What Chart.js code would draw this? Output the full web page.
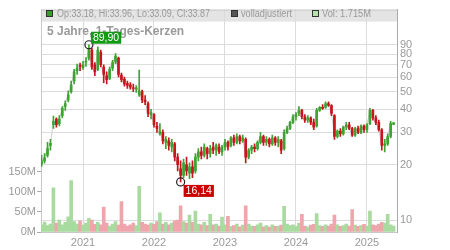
<!DOCTYPE html>
<html>
<head>
<meta charset="utf-8">
<script src="https://cdn.jsdelivr.net/npm/chart.js@4/dist/chart.umd.min.js"></script>
<style>
  html, body { margin: 0; padding: 0; background: #fff; }
</style>
</head>
<body>
<canvas id="chart" width="450" height="250"></canvas>
<script>
const months = [
  "2020-06", "2020-07", "2020-08", "2020-09", "2020-10", "2020-11", "2020-12",
  "2021-01", "2021-02", "2021-03", "2021-04", "2021-05", "2021-06", "2021-07", "2021-08", "2021-09", "2021-10", "2021-11", "2021-12",
  "2022-01", "2022-02", "2022-03", "2022-04", "2022-05", "2022-06", "2022-07", "2022-08", "2022-09", "2022-10", "2022-11", "2022-12",
  "2023-01", "2023-02", "2023-03", "2023-04", "2023-05", "2023-06", "2023-07", "2023-08", "2023-09", "2023-10", "2023-11", "2023-12",
  "2024-01", "2024-02", "2024-03", "2024-04", "2024-05", "2024-06", "2024-07", "2024-08", "2024-09", "2024-10", "2024-11", "2024-12",
  "2025-01", "2025-02", "2025-03", "2025-04", "2025-05",
];
const halves = ["01", "16"];

const opens = [
  20.2, 21.0, 22.5, 25.5, 33.0, 35.5, 33.5, 37.0, 41.5, 45.0,
  50.0, 57.0, 65.0, 69.5, 67.5, 72.5, 76.0, 84.0, 70.0, 66.0,
  82.0, 68.0, 61.0, 59.0, 67.0, 72.5, 76.0, 61.5, 58.5, 55.5,
  54.5, 52.5, 51.5, 48.0, 50.0, 45.0, 43.0, 37.5, 37.5, 32.5,
  29.5, 30.0, 26.5, 27.0, 25.0, 26.0, 22.0, 19.0, 17.5, 20.0,
  18.0, 19.5, 18.5, 22.0, 23.5, 22.5, 24.5, 23.0, 25.0, 24.0,
  25.0, 23.5, 25.0, 26.5, 25.5, 28.0, 26.5, 28.5, 27.0, 27.5,
  22.0, 24.0, 25.0, 24.5, 26.5, 28.5, 26.5, 27.5, 26.0, 28.0,
  26.5, 27.0, 24.5, 30.0, 31.5, 34.0, 36.5, 38.0, 39.5, 36.5,
  35.0, 36.0, 34.0, 32.5, 39.5, 41.0, 41.0, 43.0, 42.0, 37.0,
  28.5, 30.5, 29.5, 32.0, 33.0, 31.5, 29.0, 31.5, 30.0, 32.5,
  31.0, 33.5, 39.5, 36.0, 34.0, 31.0, 25.5, 26.0, 28.5, 33.18,
];
const highs = [
  22.5, 23.0, 26.5, 27.5, 36.8, 36.0, 37.0, 41.5, 44.5, 50.5,
  57.0, 66.0, 70.5, 71.5, 73.0, 76.5, 89.9, 86.0, 72.0, 87.5,
  84.0, 70.0, 64.0, 68.0, 74.0, 80.5, 77.0, 63.0, 60.0, 57.0,
  56.0, 55.0, 54.0, 65.5, 51.0, 47.5, 44.0, 40.0, 38.0, 34.0,
  33.5, 31.0, 28.5, 28.0, 27.5, 26.5, 23.0, 21.0, 21.5, 22.0,
  20.5, 21.0, 23.0, 24.5, 25.0, 26.0, 25.0, 25.5, 26.5, 26.0,
  26.0, 25.5, 27.5, 27.0, 28.5, 29.0, 29.5, 29.0, 29.0, 28.0,
  24.5, 25.5, 26.0, 27.0, 30.0, 29.0, 28.5, 28.0, 29.0, 28.5,
  28.5, 27.5, 31.0, 32.5, 34.5, 37.5, 38.5, 41.5, 40.0, 37.5,
  37.0, 36.5, 35.5, 40.5, 41.5, 42.5, 44.0, 44.0, 42.5, 37.5,
  31.0, 31.5, 32.5, 34.0, 34.0, 32.0, 32.0, 32.5, 33.0, 33.0,
  33.5, 40.5, 40.0, 37.0, 35.0, 31.5, 27.5, 29.5, 34.5, 33.96,
];
const lows = [
  19.6, 20.4, 22.0, 24.0, 31.5, 32.0, 32.5, 36.0, 39.5, 44.0,
  49.0, 55.0, 62.0, 65.0, 66.0, 68.5, 74.0, 66.0, 61.0, 65.0,
  68.0, 56.0, 55.0, 58.0, 65.0, 71.0, 60.0, 56.5, 53.5, 52.0,
  51.5, 50.0, 49.5, 47.0, 43.5, 42.5, 36.5, 35.5, 32.0, 30.0,
  29.0, 26.0, 24.5, 24.0, 23.5, 21.0, 18.5, 16.14, 17.0, 17.5,
  16.8, 17.0, 18.0, 21.0, 21.5, 22.0, 21.5, 22.0, 23.0, 22.5,
  23.0, 22.5, 24.0, 24.0, 25.0, 25.5, 26.0, 26.0, 26.5, 20.5,
  21.5, 23.0, 23.5, 24.0, 26.0, 25.5, 25.5, 25.0, 25.5, 25.5,
  25.0, 23.0, 24.0, 29.5, 31.0, 33.5, 35.0, 37.0, 35.5, 34.0,
  34.0, 33.0, 31.0, 32.0, 39.0, 40.0, 40.5, 41.5, 37.0, 27.5,
  28.0, 28.5, 29.0, 31.0, 31.0, 28.5, 28.5, 29.5, 29.5, 30.0,
  30.0, 33.0, 35.0, 33.0, 30.5, 24.0, 23.5, 25.5, 28.0, 33.09,
];
const closes = [
  21.0, 21.8, 24.5, 26.2, 34.5, 33.0, 35.5, 40.5, 43.0, 48.0,
  54.5, 64.0, 67.0, 68.5, 70.0, 73.0, 86.0, 68.0, 64.0, 84.0,
  70.0, 62.0, 58.0, 66.0, 72.0, 78.0, 62.0, 58.0, 55.0, 54.0,
  53.0, 52.0, 52.5, 50.5, 45.0, 44.0, 38.0, 38.5, 33.0, 31.5,
  30.5, 27.0, 27.5, 25.5, 26.5, 22.0, 20.0, 17.5, 20.5, 18.5,
  19.5, 18.0, 22.0, 23.5, 22.5, 25.0, 23.0, 24.5, 24.0, 25.5,
  23.5, 25.0, 26.5, 25.0, 28.0, 26.5, 28.5, 27.0, 28.0, 22.0,
  24.0, 25.0, 24.5, 26.5, 28.5, 26.5, 27.5, 26.0, 28.0, 26.5,
  27.5, 24.0, 30.0, 31.5, 34.0, 36.5, 37.5, 39.5, 36.5, 35.0,
  36.0, 34.0, 32.0, 39.5, 41.0, 40.5, 43.0, 42.0, 38.0, 28.5,
  30.5, 29.5, 32.0, 33.0, 31.5, 29.0, 31.5, 30.0, 32.5, 31.0,
  33.0, 39.5, 36.0, 34.0, 31.0, 25.5, 26.0, 28.5, 33.5, 33.87,
];
// volume in millions
const volumes = [
  18, 25, 16, 20, 110, 22, 30, 18, 24, 38,
  128, 26, 20, 28, 17, 22, 34, 30, 19, 24,
  18, 62, 22, 15, 20, 26, 17, 76, 20, 15,
  18, 22, 16, 114, 24, 20, 17, 22, 19, 26,
  48, 20, 24, 18, 22, 28, 30, 65, 26, 22,
  42, 24, 52, 20, 18, 24, 16, 44, 18, 20,
  15, 37, 18, 39, 14, 16, 20, 13, 17, 65,
  20, 15, 14, 18, 22, 13, 16, 12, 18, 14,
  15, 17, 64, 20, 16, 18, 14, 22, 44, 15,
  13, 17, 19, 46, 16, 14, 18, 15, 20, 42,
  18, 14, 16, 20, 15, 56, 17, 14, 16, 19,
  15, 52, 18, 16, 20, 24, 22, 44, 18, 15,
];
const priceTicks = [10, 20, 30, 40, 50, 60, 70, 80, 90];
const volumeTicks = [0, 50, 100, 150];
const headerTexts = ["Op:33.18, Hi:33.96, Lo:33.09, Cl:33.87", "volladjustiert", "Vol: 1.715M"];
const titleText = "5 Jahre, 1-Tages-Kerzen";

const UP = "#3ea333";
const DOWN = "#c8151d";
const VOL_UP = "#a9dba0";
const VOL_DOWN = "#efa5ac";
const TEXT = "#9a9a9a";
const GRID = "#dcdcdc";

const dates = months.flatMap((m) => halves.map((d) => `${m}-${d}`));
const yearIdx = dates.map((d, i) => (d.endsWith("-01-01") ? i : -1)).filter((i) => i >= 0);
const isUp = closes.map((c, i) => c >= opens[i]);

const overlay = {
  id: "overlay",
  beforeDraw(chart) {
    const { ctx, chartArea: a } = chart;
    ctx.save();
    ctx.fillStyle = "#e4e4e4";
    ctx.fillRect(a.left, a.top, a.right - a.left, 12);
    ctx.restore();
  },
  afterDatasetsDraw(chart) {
    const { ctx, chartArea: a } = chart;
    const x = chart.scales.x;
    const y = chart.scales.price;
    ctx.save();
    ctx.strokeStyle = "#c8c8c8";
    ctx.lineWidth = 1;
    ctx.beginPath();
    ctx.moveTo(a.left, a.top + 0.5);
    ctx.lineTo(a.right, a.top + 0.5);
    ctx.stroke();

    // header legend
    const swatches = [
      { x: 46, fill: "#3a9a2e", tx: 57, w: 153 },
      { x: 231, fill: "#555555", tx: 241, w: 51 },
      { x: 312, fill: "#b6e2ad", tx: 322, w: 49 },
    ];
    ctx.font = "10px Arial, 'Liberation Sans', sans-serif";
    ctx.textBaseline = "middle";
    swatches.forEach((s, i) => {
      ctx.fillStyle = s.fill;
      ctx.fillRect(s.x + 0.5, 10.5, 6, 6);
      ctx.strokeStyle = "#333";
      ctx.strokeRect(s.x + 0.5, 10.5, 6, 6);
      ctx.fillStyle = TEXT;
      ctx.fillText(headerTexts[i], s.tx, 14, s.w);
    });

    ctx.font = "bold 12px Arial, 'Liberation Sans', sans-serif";
    ctx.textBaseline = "alphabetic";
    ctx.fillStyle = TEXT;
    ctx.fillText(titleText, 47, 35);

    // extreme markers
    const hi = highs.indexOf(Math.max(...highs));
    const lo = lows.indexOf(Math.min(...lows));
    const marks = [
      { i: hi, v: highs[hi], color: "#129a12", dx: 2, dy: -13 },
      { i: lo, v: lows[lo], color: "#cc0000", dx: 3, dy: 3 },
    ];
    ctx.font = "10.5px Arial, 'Liberation Sans', sans-serif";
    ctx.textBaseline = "middle";
    for (const m of marks) {
      const cx = x.getPixelForValue(m.i);
      const cy = y.getPixelForValue(m.v);
      ctx.strokeStyle = "#222";
      ctx.lineWidth = 1.2;
      ctx.beginPath();
      ctx.arc(cx, cy, 4, 0, Math.PI * 2);
      ctx.stroke();
      const label = m.v.toFixed(2).replace(".", ",");
      const w = ctx.measureText(label).width + 4;
      ctx.fillStyle = m.color;
      ctx.fillRect(cx + m.dx, cy + m.dy, w, 12);
      ctx.fillStyle = "#fff";
      ctx.fillText(label, cx + m.dx + 2, cy + m.dy + 6.5);
    }
    ctx.restore();
  },
};

Chart.defaults.font.family = "Arial, 'Liberation Sans', sans-serif";

new Chart(document.querySelector("#chart"), {
  type: "bar",
  data: {
    datasets: [
      {
        type: "line",
        label: "volladjustiert",
        data: closes.map((c, i) => ({ x: i, y: c })),
        yAxisID: "price",
        borderColor: "#cfcfcf",
        borderWidth: 1,
        pointRadius: 0,
        order: 3,
      },
      {
        label: "wick",
        data: lows.map((l, i) => ({ x: i, y: [l, highs[i]] })),
        yAxisID: "price",
        backgroundColor: isUp.map((u) => (u ? UP : DOWN)),
        barThickness: 1,
        grouped: false,
        order: 2,
      },
      {
        label: "body",
        data: opens.map((o, i) => ({ x: i, y: [o, closes[i]] })),
        yAxisID: "price",
        backgroundColor: isUp.map((u) => (u ? UP : DOWN)),
        barThickness: 2,
        grouped: false,
        order: 1,
      },
      {
        label: "Vol",
        data: volumes.map((v, i) => ({ x: i, y: v })),
        yAxisID: "vol",
        backgroundColor: isUp.map((u) => (u ? VOL_UP : VOL_DOWN)),
        barThickness: 3,
        grouped: false,
        order: 4,
      },
    ],
  },
  options: {
    responsive: false,
    animation: false,
    layout: { padding: { top: 7 } },
    plugins: { legend: { display: false }, tooltip: { enabled: false } },
    scales: {
      x: {
        type: "linear",
        offset: false,
        min: -0.2,
        max: 120.15,
        afterBuildTicks: (axis) => {
          axis.ticks = yearIdx.map((v) => ({ value: v }));
        },
        afterFit: (axis) => {
          axis.height = 18;
        },
        ticks: {
          autoSkip: false,
          maxRotation: 0,
          padding: 4,
          color: TEXT,
          font: { size: 11 },
          callback: (v) => dates[v].slice(0, 4),
        },
        grid: { color: GRID, drawTicks: false, offset: false },
        border: { color: "#c8c8c8" },
      },
      price: {
        type: "logarithmic",
        position: "right",
        min: 8.62,
        max: 139.6,
        afterBuildTicks: (axis) => {
          axis.ticks = priceTicks.map((v) => ({ value: v }));
        },
        afterFit: (axis) => {
          axis.width = 53;
        },
        ticks: { color: TEXT, font: { size: 11 }, padding: 3, callback: (v) => String(v) },
        grid: { color: GRID, drawTicks: false },
        border: { color: "#aaaaaa" },
      },
      vol: {
        type: "linear",
        position: "left",
        min: 0,
        max: 554,
        afterBuildTicks: (axis) => {
          axis.ticks = volumeTicks.map((v) => ({ value: v }));
        },
        afterFit: (axis) => {
          axis.width = 41;
        },
        ticks: { color: TEXT, font: { size: 11 }, padding: 1, callback: (v) => `${v}M` },
        grid: { drawOnChartArea: false, tickLength: 4, tickColor: "#aaaaaa" },
        border: { color: "#c8c8c8" },
      },
    },
  },
  plugins: [overlay],
});
</script>
</body>
</html>
